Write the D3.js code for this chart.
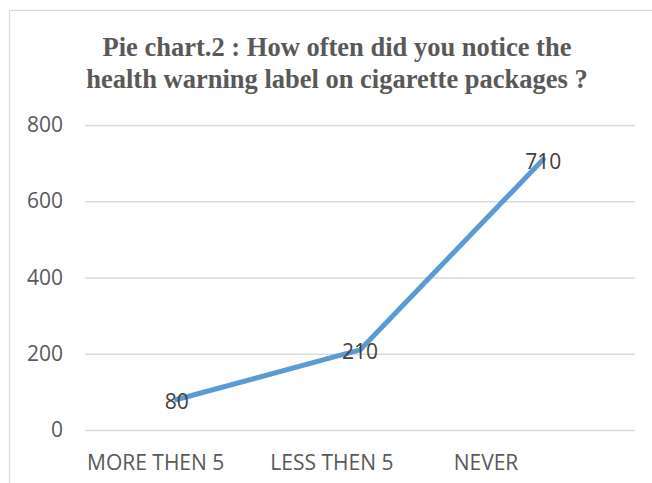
<!DOCTYPE html>
<html><head><meta charset="utf-8">
<script src="https://cdn.jsdelivr.net/npm/d3@7"></script>
<style>body{margin:0;background:#fff}svg{display:block}</style>
</head><body>
<script>
const categories = ["MORE THEN 5", "LESS THEN 5", "NEVER"];
const values = [80, 210, 710];
const yTicks = [0, 200, 400, 600, 800];
const titleLines = ["Pie chart.2 : How often did you notice the", "health warning label on cigarette packages ?"];

const W = 652, H = 483;
const svg = d3.select("body").append("svg").attr("width", W).attr("height", H);
svg.append("rect").attr("width", W).attr("height", H).attr("fill", "#fff");
svg.append("rect").attr("x", 9.5).attr("y", 10.5).attr("width", 700).attr("height", 600)
  .attr("fill", "none").attr("stroke", "#d9d9d9").attr("stroke-width", 1.2);

const plot = {left: 85, right: 635, top: 125, bottom: 430};
const x = d3.scaleBand().domain(categories).range([plot.left, plot.right]);
const y = d3.scaleLinear().domain([0, 800]).range([plot.bottom, plot.top]);

// title
const t = svg.append("text").attr("text-anchor", "middle")
  .attr("font-family", "Liberation Serif, Times New Roman, serif")
  .attr("font-weight", "bold").attr("font-size", 26.5).attr("fill", "#595959");
titleLines.forEach((l, i) => t.append("tspan").attr("x", 337).attr("y", 56 + i * 32).text(l));

// gridlines
const yAxis = d3.axisLeft(y).tickValues(yTicks).tickSize(-(plot.right - plot.left)).tickPadding(22);
const ga = svg.append("g").attr("transform", `translate(${plot.left},0)`).call(yAxis);
ga.select(".domain").remove();
ga.selectAll(".tick line").attr("stroke", "#d9d9d9").attr("stroke-width", 1.5);
ga.selectAll(".tick text").attr("font-family", "Open Sans, Liberation Sans, sans-serif")
  .attr("font-size", 21).attr("fill", "#595959");

// x labels (left-aligned in band)
const xAxis = d3.axisBottom(x).tickSize(0).tickPadding(0);
const gx = svg.append("g").attr("transform", `translate(0,${plot.bottom})`).call(xAxis);
gx.select(".domain").remove();
gx.selectAll(".tick text")
  .attr("text-anchor", "start")
  .attr("x", -x.bandwidth() / 2 + 2)
  .attr("y", 33).attr("dy", "0.35em")
  .attr("font-family", "Open Sans, Liberation Sans, sans-serif")
  .attr("font-size", 21).attr("fill", "#595959");

const data = categories.map((c, i) => ({c, v: values[i]}));
const line = d3.line().x(d => x(d.c) + x.bandwidth() / 2).y(d => y(d.v));
svg.append("path").datum(data).attr("d", line).attr("fill", "none")
  .attr("stroke", "#5B9BD5").attr("stroke-width", 5).attr("stroke-linejoin", "round").attr("stroke-linecap", "round");

svg.selectAll(".dl").data(data).enter().append("text")
  .attr("x", d => x(d.c) + x.bandwidth() / 2).attr("y", d => y(d.v) + 2)
  .attr("text-anchor", "middle").attr("dy", "0.35em")
  .attr("font-family", "Open Sans, Liberation Sans, sans-serif")
  .attr("font-size", 21).attr("fill", "#404040").text(d => d.v);
</script>
</body></html>
